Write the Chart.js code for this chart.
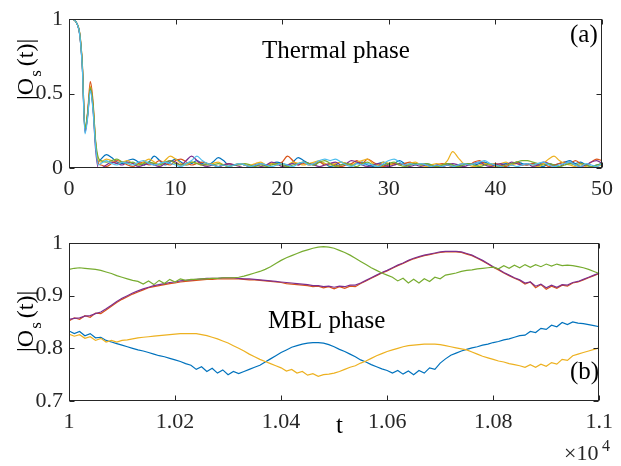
<!DOCTYPE html>
<html>
<head>
<meta charset="utf-8">
<script src="https://cdn.jsdelivr.net/npm/chart.js@4"></script>
<style>
  body { margin: 0; background: #fff; }
  #wrap { position: relative; width: 621px; height: 466px; }
  canvas { position: absolute; left: 0; }
  #top { top: 0; }
  #bot { top: 215px; }
</style>
</head>
<body>
<div id="wrap">
  <canvas id="top" width="621" height="215"></canvas>
  <canvas id="bot" width="621" height="251"></canvas>
</div>
<script>
// ---- panel (a): thermal phase ----
const tTop = [0, 0.25, 0.5, 0.75, 1, 1.25, 1.5, 1.75, 2, 2.25, 2.5, 2.75,
  3, 3.5, 4, 4.5, 5, 5.5, 6, 6.5, 7, 7.5,
  8, 8.5, 9, 9.5, 10, 10.5, 11, 11.5, 12, 12.5,
  13, 13.5, 14, 14.5, 15, 15.5, 16, 16.5, 17, 17.5,
  18, 18.5, 19, 19.5, 20, 20.5, 21, 21.5, 22, 22.5,
  23, 23.5, 24, 24.5, 25, 25.5, 26, 26.5, 27, 27.5,
  28, 28.5, 29, 29.5, 30, 30.5, 31, 31.5, 32, 32.5,
  33, 33.5, 34, 34.5, 35, 35.5, 36, 36.5, 37, 37.5,
  38, 38.5, 39, 39.5, 40, 40.5, 41, 41.5, 42, 42.5,
  43, 43.5, 44, 44.5, 45, 45.5, 46, 46.5, 47, 47.5,
  48, 48.5, 49, 49.5, 50];

const topBlue = [1, 1, 0.995, 0.97, 0.90, 0.68, 0.25, 0.36, 0.54, 0.41, 0.16, 0.04,
  0.06, 0.09, 0.07, 0.04, 0.03, 0.05, 0.06, 0.04, 0.02, 0.04,
  0.08, 0.05, 0.02, 0.04, 0.06, 0.04, 0.02, 0.03, 0.05, 0.03,
  0.02, 0.04, 0.07, 0.05, 0.02, 0.02, 0.03, 0.02, 0.01, 0.02,
  0.03, 0.02, 0.03, 0.04, 0.03, 0.02, 0.04, 0.07, 0.05, 0.03,
  0.02, 0.04, 0.03, 0.01, 0.02, 0.04, 0.03, 0.02, 0.03, 0.04,
  0.02, 0.01, 0.03, 0.04, 0.02, 0.03, 0.05, 0.03, 0.02, 0.03,
  0.02, 0.03, 0.02, 0.01, 0.02, 0.03, 0.02, 0.01, 0.02, 0.03,
  0.02, 0.03, 0.04, 0.02, 0.01, 0.02, 0.03, 0.02, 0.04, 0.03,
  0.02, 0.03, 0.02, 0.01, 0.03, 0.02, 0.03, 0.04, 0.05, 0.03,
  0.04, 0.02, 0.01, 0.02, 0.03];
const topOrange = [1, 1, 0.995, 0.97, 0.91, 0.70, 0.26, 0.38, 0.58, 0.45, 0.17, 0.03,
  0.02, 0.01, 0.03, 0.05, 0.04, 0.02, 0.01, 0.03, 0.04, 0.02,
  0.03, 0.05, 0.03, 0.02, 0.05, 0.06, 0.04, 0.02, 0.03, 0.04,
  0.03, 0.02, 0.01, 0.02, 0.03, 0.02, 0.03, 0.02, 0.01, 0.02,
  0.03, 0.02, 0.03, 0.02, 0.04, 0.08, 0.05, 0.02, 0.03, 0.02,
  0.03, 0.04, 0.02, 0.03, 0.02, 0.01, 0.02, 0.03, 0.05, 0.03,
  0.06, 0.04, 0.02, 0.01, 0.02, 0.03, 0.02, 0.03, 0.04, 0.02,
  0.03, 0.02, 0.01, 0.02, 0.03, 0.02, 0.01, 0.02, 0.03, 0.02,
  0.04, 0.05, 0.03, 0.02, 0.03, 0.02, 0.01, 0.03, 0.04, 0.02,
  0.02, 0.03, 0.02, 0.03, 0.01, 0.02, 0.03, 0.04, 0.03, 0.05,
  0.03, 0.02, 0.04, 0.06, 0.05];
const topYellow = [1, 1, 0.995, 0.97, 0.90, 0.69, 0.25, 0.36, 0.55, 0.42, 0.16, 0.05,
  0.04, 0.06, 0.05, 0.03, 0.04, 0.05, 0.03, 0.02, 0.04, 0.06,
  0.04, 0.02, 0.05, 0.08, 0.06, 0.03, 0.02, 0.04, 0.03, 0.02,
  0.02, 0.03, 0.04, 0.02, 0.01, 0.02, 0.03, 0.02, 0.02, 0.03,
  0.04, 0.02, 0.03, 0.02, 0.03, 0.02, 0.04, 0.03, 0.02, 0.03,
  0.04, 0.05, 0.03, 0.02, 0.03, 0.04, 0.03, 0.02, 0.04, 0.05,
  0.06, 0.03, 0.02, 0.04, 0.03, 0.02, 0.03, 0.02, 0.03, 0.04,
  0.02, 0.01, 0.02, 0.03, 0.02, 0.05, 0.11, 0.07, 0.03, 0.02,
  0.01, 0.02, 0.03, 0.02, 0.01, 0.03, 0.04, 0.02, 0.03, 0.02,
  0.03, 0.02, 0.01, 0.03, 0.06, 0.08, 0.05, 0.03, 0.02, 0.01,
  0.02, 0.01, 0.00, 0.01, 0.02];
const topPurple = [1, 1, 0.995, 0.97, 0.90, 0.68, 0.24, 0.35, 0.53, 0.40, 0.12, 0.00,
  0.00, 0.02, 0.04, 0.03, 0.02, 0.04, 0.03, 0.01, 0.02, 0.03,
  0.02, 0.01, 0.03, 0.05, 0.04, 0.02, 0.05, 0.08, 0.05, 0.02,
  0.01, 0.02, 0.01, 0.02, 0.03, 0.02, 0.01, 0.00, 0.01, 0.02,
  0.01, 0.02, 0.04, 0.03, 0.01, 0.02, 0.03, 0.02, 0.04, 0.03,
  0.02, 0.01, 0.02, 0.03, 0.04, 0.02, 0.03, 0.05, 0.04, 0.02,
  0.01, 0.02, 0.03, 0.02, 0.01, 0.02, 0.03, 0.02, 0.01, 0.02,
  0.01, 0.02, 0.01, 0.02, 0.01, 0.02, 0.03, 0.02, 0.01, 0.02,
  0.03, 0.04, 0.02, 0.01, 0.02, 0.03, 0.02, 0.04, 0.03, 0.02,
  0.03, 0.01, 0.02, 0.04, 0.03, 0.02, 0.01, 0.03, 0.04, 0.02,
  0.01, 0.02, 0.04, 0.05, 0.03];
const topGreen = [1, 1, 0.995, 0.97, 0.91, 0.70, 0.27, 0.37, 0.54, 0.43, 0.18, 0.07,
  0.05, 0.04, 0.05, 0.06, 0.04, 0.03, 0.04, 0.02, 0.03, 0.04,
  0.03, 0.02, 0.04, 0.05, 0.03, 0.02, 0.03, 0.04, 0.03, 0.02,
  0.03, 0.02, 0.03, 0.02, 0.01, 0.02, 0.02, 0.03, 0.02, 0.01,
  0.02, 0.01, 0.02, 0.03, 0.02, 0.01, 0.02, 0.03, 0.04, 0.03,
  0.02, 0.04, 0.05, 0.03, 0.01, 0.02, 0.03, 0.02, 0.01, 0.03,
  0.04, 0.02, 0.01, 0.02, 0.03, 0.04, 0.02, 0.01, 0.02, 0.03,
  0.02, 0.03, 0.02, 0.01, 0.02, 0.03, 0.02, 0.01, 0.02, 0.03,
  0.02, 0.01, 0.02, 0.03, 0.02, 0.01, 0.02, 0.03, 0.04, 0.05,
  0.05, 0.04, 0.03, 0.02, 0.03, 0.02, 0.01, 0.02, 0.03, 0.02,
  0.03, 0.02, 0.01, 0.02, 0.03];
const topCyan = [1, 1, 0.995, 0.97, 0.90, 0.67, 0.23, 0.34, 0.52, 0.39, 0.14, 0.02,
  0.03, 0.05, 0.03, 0.02, 0.04, 0.03, 0.02, 0.04, 0.05, 0.03,
  0.02, 0.03, 0.04, 0.03, 0.02, 0.01, 0.03, 0.05, 0.08, 0.05,
  0.03, 0.02, 0.01, 0.02, 0.01, 0.02, 0.03, 0.02, 0.01, 0.02,
  0.03, 0.02, 0.01, 0.02, 0.03, 0.02, 0.01, 0.03, 0.04, 0.02,
  0.03, 0.05, 0.06, 0.05, 0.06, 0.04, 0.02, 0.01, 0.03, 0.02,
  0.03, 0.02, 0.01, 0.03, 0.05, 0.06, 0.04, 0.02, 0.03, 0.02,
  0.03, 0.02, 0.01, 0.02, 0.01, 0.02, 0.01, 0.02, 0.03, 0.02,
  0.03, 0.04, 0.05, 0.03, 0.02, 0.01, 0.00, 0.02, 0.01, 0.02,
  0.03, 0.02, 0.03, 0.04, 0.02, 0.01, 0.02, 0.03, 0.04, 0.02,
  0.01, 0.03, 0.02, 0.01, 0.03];

const topXTicks = [0, 10, 20, 30, 40, 50];
const topYTicks = [0, 0.5, 1];

// ---- panel (b): MBL phase, t in units of 10^4 ----
const tBot = [1.000, 1.001, 1.002, 1.003, 1.004, 1.005, 1.006, 1.007, 1.008, 1.009,
  1.010, 1.011, 1.012, 1.013, 1.014, 1.015, 1.016, 1.017, 1.018, 1.019,
  1.020, 1.021, 1.022, 1.023, 1.024, 1.025, 1.026, 1.027, 1.028, 1.029,
  1.030, 1.031, 1.032, 1.033, 1.034, 1.035, 1.036, 1.037, 1.038, 1.039,
  1.040, 1.041, 1.042, 1.043, 1.044, 1.045, 1.046, 1.047, 1.048, 1.049,
  1.050, 1.051, 1.052, 1.053, 1.054, 1.055, 1.056, 1.057, 1.058, 1.059,
  1.060, 1.061, 1.062, 1.063, 1.064, 1.065, 1.066, 1.067, 1.068, 1.069,
  1.070, 1.071, 1.072, 1.073, 1.074, 1.075, 1.076, 1.077, 1.078, 1.079,
  1.080, 1.081, 1.082, 1.083, 1.084, 1.085, 1.086, 1.087, 1.088, 1.089,
  1.090, 1.091, 1.092, 1.093, 1.094, 1.095, 1.096, 1.097, 1.098, 1.099,
  1.100];

const botBlue = [0.833, 0.828, 0.832, 0.824, 0.828, 0.820, 0.821, 0.815, 0.812, 0.809,
  0.806, 0.803, 0.800, 0.797, 0.795, 0.792, 0.789, 0.786, 0.784, 0.781,
  0.778, 0.775, 0.771, 0.768, 0.760, 0.765, 0.756, 0.762, 0.753, 0.759,
  0.750, 0.756, 0.752, 0.756, 0.760, 0.764, 0.768, 0.774, 0.780, 0.786,
  0.792, 0.797, 0.802, 0.805, 0.808, 0.810, 0.811, 0.811, 0.810, 0.807,
  0.803, 0.798, 0.794, 0.789, 0.784, 0.778, 0.774, 0.769, 0.765, 0.761,
  0.758, 0.753, 0.758, 0.751, 0.757, 0.750, 0.758, 0.753, 0.763, 0.760,
  0.772, 0.780, 0.787, 0.791, 0.795, 0.798, 0.801, 0.803, 0.806, 0.808,
  0.811, 0.813, 0.816, 0.818, 0.821, 0.824, 0.825, 0.832, 0.830, 0.838,
  0.836, 0.844, 0.841, 0.849, 0.845, 0.850, 0.848, 0.847, 0.845, 0.843,
  0.841];
const botOrange = [0.852, 0.858, 0.855, 0.862, 0.859, 0.867, 0.866, 0.873, 0.880, 0.887,
  0.893, 0.898, 0.903, 0.907, 0.911, 0.915, 0.917, 0.919, 0.921, 0.923,
  0.924, 0.926, 0.927, 0.928, 0.929, 0.930, 0.931, 0.931, 0.932, 0.932,
  0.932, 0.932, 0.932, 0.931, 0.930, 0.930, 0.929, 0.928, 0.927, 0.926,
  0.925, 0.923, 0.922, 0.921, 0.920, 0.919, 0.917, 0.918, 0.915, 0.917,
  0.913, 0.917, 0.914, 0.918, 0.917, 0.923, 0.928, 0.933, 0.938, 0.943,
  0.947, 0.952, 0.957, 0.961, 0.966, 0.970, 0.973, 0.976, 0.978, 0.980,
  0.982, 0.983, 0.983, 0.983, 0.982, 0.979, 0.976, 0.971, 0.966, 0.960,
  0.954, 0.949, 0.943, 0.938, 0.933, 0.929, 0.922, 0.926, 0.915, 0.921,
  0.912, 0.918, 0.914, 0.920, 0.918, 0.924, 0.926, 0.930, 0.934, 0.938,
  0.942];
const botYellow = [0.827, 0.823, 0.826, 0.819, 0.822, 0.815, 0.819, 0.812, 0.815, 0.812,
  0.815, 0.816, 0.818, 0.820, 0.821, 0.822, 0.823, 0.824, 0.825, 0.826,
  0.827, 0.828, 0.828, 0.828, 0.828, 0.826, 0.824, 0.821, 0.818, 0.814,
  0.810, 0.805, 0.800, 0.795, 0.789, 0.784, 0.779, 0.775, 0.771, 0.767,
  0.763, 0.757, 0.760, 0.753, 0.756, 0.749, 0.752, 0.747, 0.750, 0.751,
  0.753, 0.756, 0.760, 0.764, 0.767, 0.772, 0.776, 0.781, 0.786, 0.790,
  0.794, 0.797, 0.800, 0.803, 0.805, 0.806, 0.807, 0.808, 0.808, 0.808,
  0.807, 0.805, 0.803, 0.801, 0.799, 0.797, 0.793, 0.789, 0.785, 0.782,
  0.779, 0.776, 0.774, 0.771, 0.769, 0.767, 0.764, 0.769, 0.764, 0.770,
  0.766, 0.773, 0.770, 0.779, 0.777, 0.786, 0.789, 0.792, 0.795, 0.798,
  0.801];
const botPurple = [0.855, 0.857, 0.858, 0.861, 0.862, 0.866, 0.869, 0.875, 0.882, 0.889,
  0.895, 0.900, 0.905, 0.909, 0.913, 0.916, 0.919, 0.921, 0.923, 0.925,
  0.926, 0.928, 0.929, 0.930, 0.931, 0.932, 0.933, 0.933, 0.933, 0.934,
  0.934, 0.934, 0.933, 0.932, 0.932, 0.931, 0.930, 0.929, 0.928, 0.927,
  0.926, 0.925, 0.924, 0.923, 0.922, 0.921, 0.919, 0.919, 0.917, 0.918,
  0.916, 0.918, 0.917, 0.920, 0.920, 0.924, 0.929, 0.934, 0.939, 0.944,
  0.948, 0.953, 0.958, 0.962, 0.967, 0.971, 0.974, 0.977, 0.979, 0.981,
  0.983, 0.984, 0.984, 0.984, 0.983, 0.980, 0.977, 0.972, 0.967, 0.961,
  0.955, 0.950, 0.944, 0.939, 0.934, 0.930, 0.924, 0.926, 0.918, 0.922,
  0.915, 0.920, 0.916, 0.921, 0.920, 0.925, 0.927, 0.931, 0.935, 0.939,
  0.943];
const botGreen = [0.950, 0.952, 0.953, 0.952, 0.951, 0.950, 0.948, 0.945, 0.942, 0.938,
  0.935, 0.932, 0.929, 0.927, 0.922, 0.928, 0.921, 0.929, 0.923, 0.931,
  0.926, 0.932, 0.929, 0.931, 0.931, 0.932, 0.932, 0.933, 0.933, 0.934,
  0.934, 0.934, 0.935, 0.937, 0.940, 0.943, 0.946, 0.950, 0.955, 0.961,
  0.967, 0.972, 0.976, 0.980, 0.984, 0.987, 0.990, 0.992, 0.993, 0.992,
  0.990, 0.986, 0.982, 0.977, 0.971, 0.965, 0.959, 0.953, 0.948, 0.943,
  0.939, 0.935, 0.928, 0.933, 0.924, 0.931, 0.924, 0.932, 0.927, 0.935,
  0.932, 0.939, 0.941, 0.943, 0.946, 0.948, 0.949, 0.951, 0.952, 0.953,
  0.954, 0.951, 0.957, 0.952, 0.958, 0.953, 0.959, 0.954, 0.959, 0.955,
  0.960, 0.956, 0.960, 0.957, 0.958, 0.957, 0.955, 0.953, 0.950, 0.946,
  0.942];

const botXTicks = [1, 1.02, 1.04, 1.06, 1.08, 1.1];
const botYTicks = [0.7, 0.8, 0.9, 1];

// matlab default line colours
const C = {
  blue: '#0072BD', orange: '#D95319', yellow: '#EDB120',
  purple: '#7E2F8E', green: '#77AC30', cyan: '#4DBEEE'
};

const SERIF = '"Liberation Serif", "Times New Roman", serif';
const AXIS = '#262626';

function pts(xs, ys) {
  return xs.map((x, i) => ({ x: x, y: ys[i] }));
}

function line(xs, ys, color, smooth) {
  return {
    data: pts(xs, ys),
    borderColor: color,
    borderWidth: 1.2,
    pointRadius: 0,
    tension: 0,
    cubicInterpolationMode: smooth ? 'monotone' : 'default',
    fill: false
  };
}

function fmt(v) {
  return String(parseFloat(v.toFixed(2)));
}

function scale(min, max, tickList, side) {
  return {
    type: 'linear',
    min: min,
    max: max,
    afterBuildTicks: s => { s.ticks = tickList.map(v => ({ value: v })); },
    ticks: {
      font: { family: SERIF, size: 22 },
      color: AXIS,
      padding: side === 'x' ? 8 : 6,
      callback: v => fmt(v),
      maxRotation: 0,
      autoSkip: false
    },
    grid: { display: false, drawTicks: false },
    border: { display: false }
  };
}

// box round the axes with inward ticks on all four sides
const boxPlugin = {
  id: 'box',
  afterDraw(chart) {
    const ctx = chart.ctx;
    const a = chart.chartArea;
    const sx = chart.scales.x, sy = chart.scales.y;
    const L = Math.round(a.left) + 0.5, R = Math.round(a.right) - 0.5;
    const T = Math.round(a.top) + 0.5, B = Math.round(a.bottom) - 0.5;
    ctx.save();
    ctx.strokeStyle = AXIS;
    ctx.lineWidth = 1;
    ctx.strokeRect(L, T, R - L, B - T);
    ctx.beginPath();
    sx.ticks.forEach(t => {
      const px = Math.round(sx.getPixelForValue(t.value)) + 0.5;
      ctx.moveTo(px, B); ctx.lineTo(px, B - 5);
      ctx.moveTo(px, T); ctx.lineTo(px, T + 5);
    });
    sy.ticks.forEach(t => {
      const py = Math.round(sy.getPixelForValue(t.value)) + 0.5;
      ctx.moveTo(L, py); ctx.lineTo(L + 5, py);
      ctx.moveTo(R, py); ctx.lineTo(R - 5, py);
    });
    ctx.stroke();
    ctx.restore();
  }
};

// rotated "|O_s(t)|" label, drawn upward from (x, y)
function yLabel(ctx, x, y) {
  ctx.save();
  ctx.translate(x, y);
  ctx.rotate(-Math.PI / 2);
  ctx.fillStyle = '#000';
  ctx.textBaseline = 'alphabetic';
  ctx.font = '24px ' + SERIF;
  ctx.fillText('|O', 0, 0);
  let w = ctx.measureText('|O').width;
  ctx.font = '17px ' + SERIF;
  ctx.fillText('s', w + 1, 8);
  w += ctx.measureText('s').width + 5;
  ctx.font = '24px ' + SERIF;
  ctx.fillText('(t)|', w, 0);
  ctx.restore();
}

const topText = {
  id: 'topText',
  afterDraw(chart) {
    const ctx = chart.ctx;
    ctx.save();
    ctx.fillStyle = '#000';
    ctx.font = '25px ' + SERIF;
    ctx.fillText('Thermal phase', 262, 58);
    ctx.fillText('(a)', 570, 42);
    ctx.restore();
    yLabel(ctx, 33, 100);
  }
};

const botText = {
  id: 'botText',
  afterDraw(chart) {
    const ctx = chart.ctx;
    ctx.save();
    ctx.fillStyle = '#000';
    ctx.font = '25px ' + SERIF;
    ctx.fillText('MBL phase', 268, 113);
    ctx.fillText('(b)', 570, 164);
    ctx.fillText('t', 336, 218);
    ctx.fillStyle = AXIS;
    ctx.font = '22px ' + SERIF;
    ctx.fillText('\u00d710', 564, 245);
    ctx.font = '16px ' + SERIF;
    ctx.fillText('4', 602, 236);
    ctx.restore();
    yLabel(ctx, 33, 137);
  }
};

function fitY(s) { s.width = 69; }

const topOpts = {
  responsive: false,
  animation: false,
  layout: { padding: { left: 0, right: 10, top: 10, bottom: 0 } },
  plugins: { legend: { display: false }, tooltip: { enabled: false } },
  scales: {
    x: Object.assign(scale(0, 50, topXTicks, 'x'), { afterFit: s => { s.height = 47; } }),
    y: Object.assign(scale(0, 1, topYTicks, 'y'), { afterFit: fitY })
  }
};

new Chart(document.getElementById('top'), {
  type: 'line',
  data: {
    datasets: [
      line(tTop, topCyan, C.cyan, true),
      line(tTop, topGreen, C.green, true),
      line(tTop, topPurple, C.purple, true),
      line(tTop, topYellow, C.yellow, true),
      line(tTop, topOrange, C.orange, true),
      line(tTop, topBlue, C.blue, true)
    ]
  },
  options: topOpts,
  plugins: [boxPlugin, topText]
});

const botOpts = {
  responsive: false,
  animation: false,
  layout: { padding: { left: 0, right: 10, top: 28, bottom: 0 } },
  plugins: { legend: { display: false }, tooltip: { enabled: false } },
  scales: {
    x: Object.assign(scale(1, 1.1, botXTicks, 'x'), { afterFit: s => { s.height = 65; } }),
    y: Object.assign(scale(0.7, 1, botYTicks, 'y'), { afterFit: fitY })
  }
};

new Chart(document.getElementById('bot'), {
  type: 'line',
  data: {
    datasets: [
      line(tBot, botGreen, C.green, false),
      line(tBot, botPurple, C.purple, false),
      line(tBot, botYellow, C.yellow, false),
      line(tBot, botOrange, C.orange, false),
      line(tBot, botBlue, C.blue, false)
    ]
  },
  options: botOpts,
  plugins: [boxPlugin, botText]
});
</script>
</body>
</html>
